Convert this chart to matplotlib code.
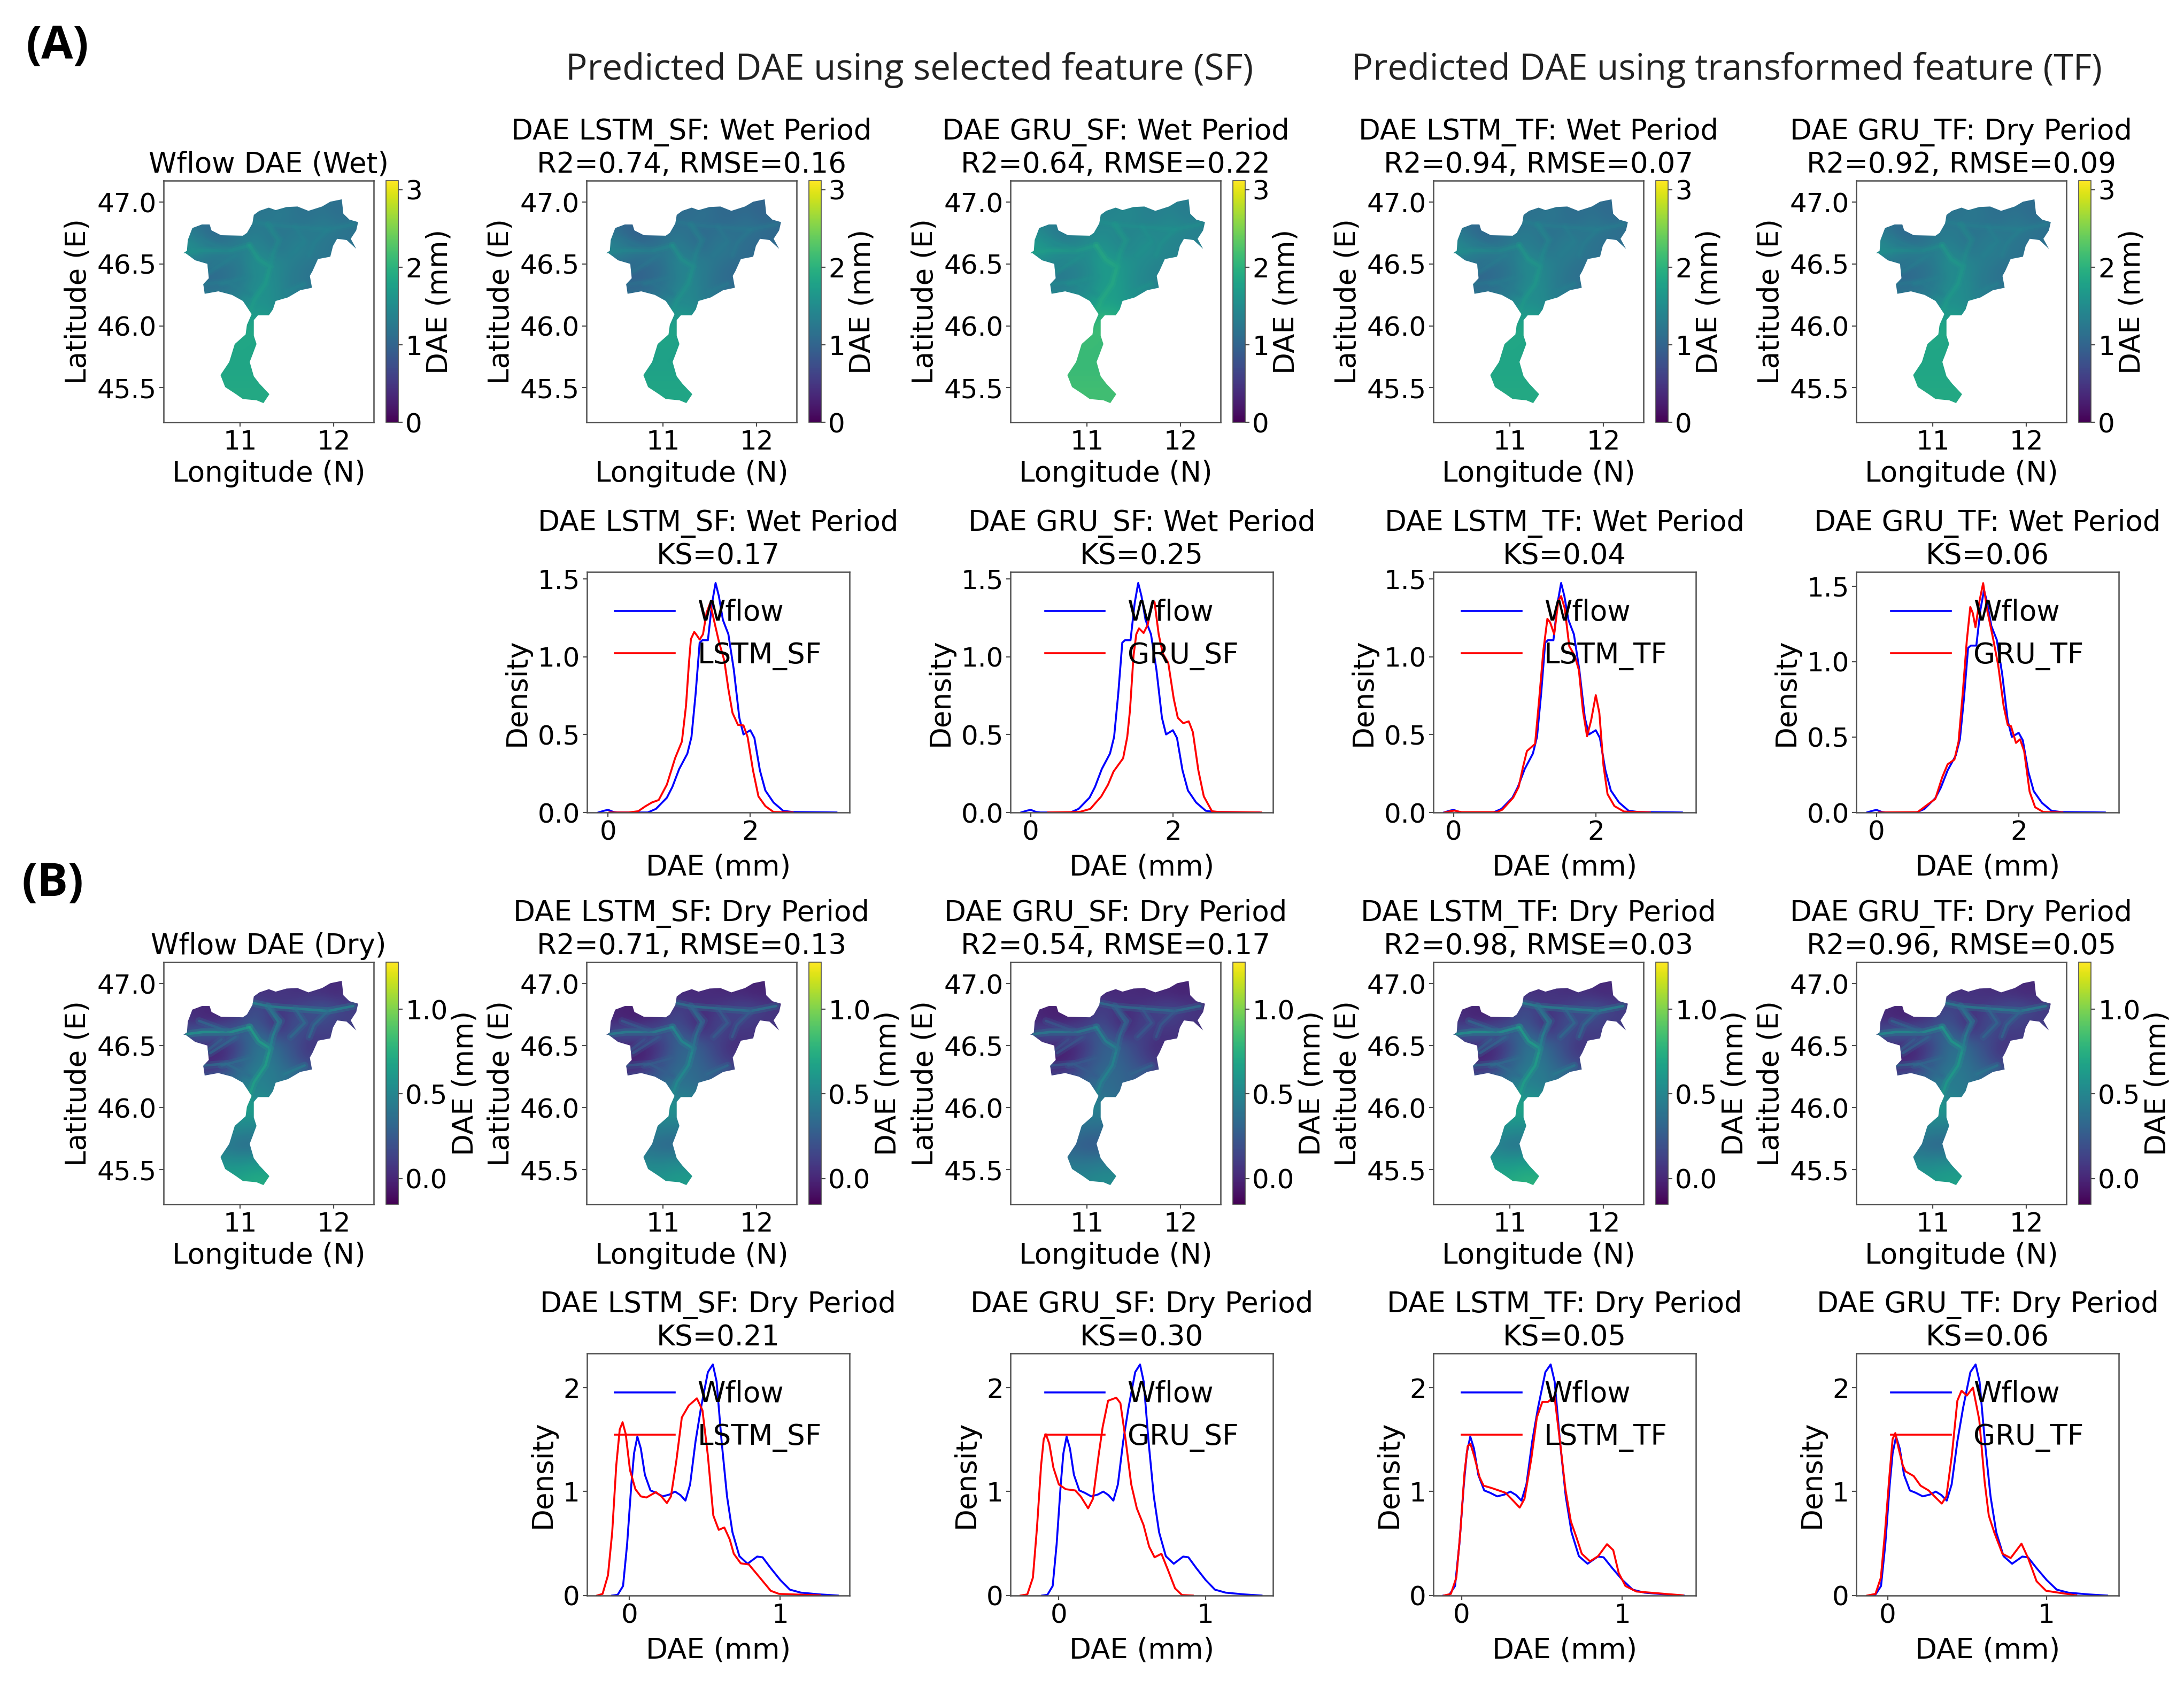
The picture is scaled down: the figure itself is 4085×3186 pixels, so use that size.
import numpy as np
import matplotlib
matplotlib.use('Agg')
import matplotlib.pyplot as plt
from matplotlib.cm import ScalarMappable
from matplotlib.colors import Normalize
from matplotlib.patches import Polygon

W, H = 4085, 3186

# basin outline
basin_lon = [10.392, 10.430, 10.439, 10.488, 10.591, 10.673, 10.693, 10.795, 11.029, 11.073, 11.132, 11.146, 11.205,
             11.307, 11.380, 11.497, 11.614, 11.731, 11.877, 11.965, 12.088, 12.105, 12.170, 12.263, 12.243, 12.184,
             12.243, 12.140, 12.038, 11.994, 11.965, 11.833, 11.775, 11.746, 11.769, 11.643, 11.512, 11.380, 11.351,
             11.307, 11.190, 11.146, 11.146, 11.175, 11.132, 11.102, 11.146, 11.205, 11.313, 11.249, 11.175, 11.029,
             10.956, 10.839, 10.789, 10.883, 10.942, 11.058, 11.073, 11.123, 11.029, 10.912, 10.766, 10.620, 10.605,
             10.664, 10.649, 10.518, 10.415]
basin_lat = [46.588, 46.607, 46.694, 46.791, 46.820, 46.820, 46.772, 46.733, 46.729, 46.752, 46.830, 46.897, 46.930,
             46.956, 46.936, 46.961, 46.965, 46.930, 46.965, 47.004, 47.023, 46.907, 46.859, 46.839, 46.772, 46.704,
             46.623, 46.694, 46.704, 46.646, 46.559, 46.540, 46.443, 46.404, 46.308, 46.288, 46.230, 46.201, 46.133,
             46.085, 46.085, 46.046, 45.921, 45.853, 45.766, 45.708, 45.592, 45.534, 45.447, 45.375, 45.398, 45.408,
             45.447, 45.505, 45.602, 45.708, 45.853, 45.930, 46.008, 46.095, 46.201, 46.250, 46.279, 46.259, 46.337,
             46.385, 46.501, 46.530, 46.588]

# DAE cells, north to south (47.0 .. 45.4), west to east (10.40 .. 12.35)
wet_grid = [
    [1.20, 1.20, 1.20, 1.20, 1.20, 1.22, 1.20, 1.24, 1.18, 1.20, 1.20, 1.12, 1.20, 1.20],
    [1.20, 1.20, 1.20, 1.20, 1.22, 1.22, 1.22, 1.30, 1.18, 1.15, 1.22, 1.10, 1.20, 1.20],
    [1.30, 1.15, 1.05, 1.20, 1.25, 1.25, 1.30, 1.22, 1.22, 1.25, 1.32, 1.25, 1.18, 1.18],
    [1.45, 1.35, 1.12, 1.12, 1.25, 1.40, 1.25, 1.20, 1.35, 1.28, 1.25, 1.18, 1.18, 1.18],
    [1.60, 1.50, 1.40, 1.38, 1.35, 1.45, 1.38, 1.25, 1.40, 1.30, 1.22, 1.18, 1.18, 1.18],
    [1.25, 1.25, 1.15, 1.20, 1.25, 1.55, 1.50, 1.42, 1.30, 1.20, 1.22, 1.20, 1.20, 1.20],
    [1.10, 1.10, 1.08, 1.15, 1.25, 1.45, 1.55, 1.38, 1.25, 1.18, 1.20, 1.20, 1.20, 1.20],
    [1.15, 1.15, 1.15, 1.20, 1.32, 1.50, 1.60, 1.38, 1.28, 1.22, 1.22, 1.20, 1.20, 1.20],
    [1.35, 1.35, 1.35, 1.35, 1.40, 1.60, 1.55, 1.42, 1.35, 1.30, 1.30, 1.30, 1.30, 1.30],
    [1.60, 1.60, 1.60, 1.60, 1.60, 1.68, 1.62, 1.55, 1.50, 1.50, 1.50, 1.50, 1.50, 1.50],
    [1.85, 1.85, 1.85, 1.85, 1.85, 1.85, 1.80, 1.80, 1.80, 1.80, 1.80, 1.80, 1.80, 1.80],
    [1.85, 1.85, 1.85, 1.85, 1.85, 1.85, 1.80, 1.80, 1.80, 1.80, 1.80, 1.80, 1.80, 1.80],
    [1.82, 1.82, 1.82, 1.82, 1.85, 1.82, 1.82, 1.82, 1.82, 1.82, 1.82, 1.82, 1.82, 1.82],
    [1.82, 1.82, 1.82, 1.82, 1.82, 1.82, 1.82, 1.82, 1.82, 1.82, 1.82, 1.82, 1.82, 1.82],
    [1.85, 1.85, 1.85, 1.85, 1.85, 1.85, 1.85, 1.85, 1.85, 1.85, 1.85, 1.85, 1.85, 1.85],
    [1.88, 1.88, 1.88, 1.88, 1.88, 1.88, 1.88, 1.88, 1.88, 1.88, 1.88, 1.88, 1.88, 1.88],
    [1.88, 1.88, 1.88, 1.88, 1.88, 1.88, 1.88, 1.88, 1.88, 1.88, 1.88, 1.88, 1.88, 1.88],
]
dry_grid = [
    [0.04, 0.04, 0.04, 0.04, 0.04, 0.08, 0.05, 0.07, 0.04, 0.05, 0.04, 0.02, 0.05, 0.05],
    [0.04, 0.04, 0.03, 0.05, 0.07, 0.08, 0.05, 0.08, 0.05, 0.07, 0.05, 0.02, 0.08, 0.08],
    [0.05, 0.02, 0.00, 0.04, 0.10, 0.18, 0.15, 0.08, 0.15, 0.18, 0.24, 0.18, 0.10, 0.10],
    [0.06, 0.02, 0.00, 0.04, 0.12, 0.24, 0.10, 0.04, 0.20, 0.18, 0.18, 0.10, 0.12, 0.12],
    [0.20, 0.32, 0.32, 0.30, 0.28, 0.35, 0.22, 0.10, 0.22, 0.12, 0.10, 0.12, 0.12, 0.12],
    [0.05, 0.05, 0.01, 0.05, 0.14, 0.38, 0.42, 0.28, 0.18, 0.05, 0.12, 0.12, 0.12, 0.12],
    [0.02, 0.02, 0.00, 0.03, 0.25, 0.38, 0.44, 0.32, 0.20, 0.10, 0.18, 0.18, 0.18, 0.18],
    [0.05, 0.10, 0.05, 0.20, 0.32, 0.44, 0.46, 0.38, 0.32, 0.22, 0.22, 0.22, 0.22, 0.22],
    [0.35, 0.35, 0.35, 0.35, 0.40, 0.50, 0.46, 0.40, 0.35, 0.30, 0.30, 0.30, 0.30, 0.30],
    [0.48, 0.48, 0.48, 0.48, 0.52, 0.52, 0.48, 0.48, 0.48, 0.48, 0.48, 0.48, 0.48, 0.48],
    [0.62, 0.62, 0.62, 0.62, 0.65, 0.68, 0.62, 0.58, 0.58, 0.58, 0.58, 0.58, 0.58, 0.58],
    [0.56, 0.56, 0.56, 0.56, 0.56, 0.56, 0.52, 0.52, 0.52, 0.52, 0.52, 0.52, 0.52, 0.52],
    [0.52, 0.52, 0.52, 0.52, 0.48, 0.46, 0.48, 0.48, 0.48, 0.48, 0.48, 0.48, 0.48, 0.48],
    [0.42, 0.42, 0.42, 0.42, 0.36, 0.36, 0.42, 0.42, 0.42, 0.42, 0.42, 0.42, 0.42, 0.42],
    [0.52, 0.52, 0.52, 0.52, 0.50, 0.52, 0.52, 0.52, 0.52, 0.52, 0.52, 0.52, 0.52, 0.52],
    [0.62, 0.62, 0.62, 0.62, 0.62, 0.66, 0.66, 0.66, 0.66, 0.66, 0.66, 0.66, 0.66, 0.66],
    [0.68, 0.68, 0.68, 0.68, 0.68, 0.72, 0.72, 0.72, 0.72, 0.72, 0.72, 0.72, 0.72, 0.72],
]

wet_tone = {'Wflow': (1.0, 0.0, 0.0), 'LSTM_SF': (1.0, -0.12, -0.05), 'GRU_SF': (1.0, 0.18, 0.28),
            'LSTM_TF': (1.0, -0.05, 0.0), 'GRU_TF': (1.0, -0.03, 0.0)}
dry_tone = {'Wflow': (1.0, 0.0, 0.0), 'LSTM_SF': (0.85, -0.03, 0.02), 'GRU_SF': (0.8, -0.03, -0.04),
            'LSTM_TF': (1.0, -0.01, 0.04), 'GRU_TF': (0.95, -0.01, -0.02)}

# valley lines of the maps (lon, lat, dry DAE, wet DAE)
valley_lines = [
    ([10.43, 10.60, 10.90, 11.10], [46.594, 46.61, 46.61, 46.65], 0.62, 1.62),
    ([11.10, 11.20, 11.32, 11.27, 11.15, 11.07, 11.05], [46.65, 46.536, 46.478, 46.34, 46.207, 46.043, 45.98], 0.68, 1.80),
    ([11.10, 11.32, 11.59, 11.94, 12.21], [46.85, 46.816, 46.80, 46.78, 46.82], 0.52, 1.42),
    ([11.32, 11.35, 11.41, 11.30], [46.478, 46.58, 46.69, 46.816], 0.52, 1.60),
    ([11.30, 11.44, 11.39], [46.816, 46.70, 46.635], 0.36, 1.38),
    ([11.59, 11.69, 11.54], [46.80, 46.684, 46.57], 0.36, 1.40),
    ([11.94, 11.79, 11.74], [46.78, 46.668, 46.57], 0.36, 1.40),
    ([10.68, 10.95], [46.44, 46.57], 0.34, 1.40),
    ([10.80, 11.10], [46.34, 46.40], 0.36, 1.40),
    ([10.61, 10.85, 11.10], [46.34, 46.355, 46.257], 0.36, 1.35),
    ([11.47, 11.69], [46.27, 46.34], 0.44, 1.45),
    ([10.56, 10.85], [46.70, 46.62], 0.34, 1.35),
    ([10.80, 10.61], [46.55, 46.44], 0.30, 1.30),
]

# density curves
wflow_wet_x = [-0.135, -0.058, 0.0, 0.077, 0.135, 0.558, 0.673, 0.827, 0.904, 1.0, 1.115, 1.173, 1.231, 1.288, 1.327,
               1.404, 1.462, 1.512, 1.558, 1.615, 1.692, 1.769, 1.846, 1.904, 2.0, 2.058, 2.135, 2.212, 2.327, 2.462,
               2.596, 3.212]
wflow_wet_y = [0.0, 0.011, 0.017, 0.003, 0.0, 0.0, 0.023, 0.095, 0.164, 0.279, 0.378, 0.485, 0.761, 1.09, 1.106, 1.106,
               1.343, 1.473, 1.389, 1.236, 1.144, 0.914, 0.608, 0.501, 0.528, 0.478, 0.271, 0.141, 0.064, 0.011, 0.003,
               0.0]
lstm_sf_wet_x = [0.019, 0.288, 0.423, 0.519, 0.615, 0.712, 0.827, 0.942, 1.038, 1.096, 1.135, 1.165, 1.212, 1.25, 1.288,
                 1.335, 1.385, 1.435, 1.481, 1.558, 1.635, 1.692, 1.75, 1.827, 1.904, 1.962, 2.038, 2.115, 2.212, 2.327,
                 2.596]
lstm_sf_wet_y = [0.0, 0.0, 0.008, 0.038, 0.064, 0.080, 0.179, 0.348, 0.455, 0.685, 0.945, 1.113, 1.159, 1.136, 1.110,
                 1.144, 1.282, 1.343, 1.251, 1.098, 0.975, 0.792, 0.639, 0.562, 0.559, 0.485, 0.271, 0.103, 0.041, 0.003,
                 0.0]
gru_sf_wet_x = [0.242, 0.685, 0.838, 0.992, 1.088, 1.165, 1.3, 1.358, 1.396, 1.446, 1.485, 1.523, 1.588, 1.646, 1.704,
                1.742, 1.8, 1.858, 1.935, 2.012, 2.069, 2.146, 2.223, 2.281, 2.358, 2.435, 2.55, 2.646, 3.242]
gru_sf_wet_y = [0.0, 0.003, 0.023, 0.103, 0.179, 0.263, 0.348, 0.485, 0.654, 1.006, 1.144, 1.182, 1.152, 1.205, 1.343,
                1.351, 1.144, 1.021, 0.960, 0.730, 0.608, 0.573, 0.585, 0.516, 0.271, 0.103, 0.008, 0.003, 0.0]
lstm_tf_wet_x = [-0.123, -0.046, 0.012, 0.108, 0.608, 0.685, 0.838, 0.915, 0.973, 1.031, 1.088, 1.146, 1.204, 1.262,
                 1.319, 1.358, 1.415, 1.473, 1.512, 1.562, 1.627, 1.704, 1.762, 1.819, 1.877, 1.935, 2.0, 2.05, 2.108,
                 2.165, 2.262, 2.396, 2.762]
lstm_tf_wet_y = [0.0, 0.008, 0.012, 0.002, 0.002, 0.018, 0.095, 0.164, 0.286, 0.394, 0.417, 0.440, 0.730, 1.037, 1.243,
                 1.220, 1.144, 1.358, 1.389, 1.312, 1.067, 1.006, 0.914, 0.654, 0.489, 0.593, 0.753, 0.639, 0.302, 0.118,
                 0.041, 0.006, 0.0]
gru_tf_wet_x = [0.038, 0.577, 0.692, 0.827, 0.923, 1.0, 1.096, 1.154, 1.212, 1.269, 1.319, 1.354, 1.392, 1.442, 1.5,
                1.558, 1.635, 1.712, 1.788, 1.846, 1.892, 1.962, 2.019, 2.077, 2.154, 2.231, 2.346, 2.615]
gru_tf_wet_y = [0.0, 0.002, 0.043, 0.090, 0.232, 0.319, 0.351, 0.469, 0.785, 1.133, 1.362, 1.322, 1.227, 1.386, 1.520,
                1.338, 1.164, 0.975, 0.706, 0.580, 0.572, 0.461, 0.485, 0.406, 0.137, 0.035, 0.003, 0.0]

wflow_dry_x = [-0.114, -0.078, -0.042, -0.015, 0.013, 0.031, 0.053, 0.076, 0.103, 0.140, 0.176, 0.221, 0.267, 0.303,
               0.339, 0.372, 0.403, 0.439, 0.475, 0.521, 0.554, 0.579, 0.612, 0.648, 0.684, 0.730, 0.784, 0.848, 0.884,
               0.938, 1.002, 1.065, 1.138, 1.265, 1.383]
wflow_dry_y = [0.0, 0.007, 0.092, 0.494, 1.069, 1.368, 1.529, 1.414, 1.161, 1.011, 0.989, 0.954, 0.972, 1.0, 0.966,
               0.913, 1.069, 1.483, 1.805, 2.149, 2.223, 2.057, 1.483, 0.954, 0.609, 0.379, 0.306, 0.375, 0.368, 0.264,
               0.149, 0.057, 0.028, 0.011, 0.0]
lstm_sf_dry_x = [-0.214, -0.178, -0.142, -0.114, -0.087, -0.064, -0.045, -0.024, 0.004, 0.040, 0.076, 0.113, 0.176,
                 0.212, 0.249, 0.276, 0.312, 0.348, 0.394, 0.448, 0.485, 0.521, 0.557, 0.593, 0.630, 0.666, 0.693, 0.739,
                 0.793, 0.866, 0.938, 0.993, 1.265]
lstm_sf_dry_y = [0.0, 0.016, 0.195, 0.609, 1.253, 1.598, 1.667, 1.552, 1.207, 1.023, 0.954, 0.943, 0.995, 0.954, 0.890,
                 0.954, 1.299, 1.713, 1.828, 1.897, 1.782, 1.345, 0.770, 0.632, 0.655, 0.540, 0.402, 0.310, 0.299, 0.172,
                 0.046, 0.016, 0.002]
gru_sf_dry_x = [-0.261, -0.215, -0.177, -0.149, -0.121, -0.103, -0.088, -0.065, -0.037, 0.0, 0.047, 0.112, 0.149, 0.2,
                0.233, 0.271, 0.299, 0.336, 0.392, 0.420, 0.457, 0.494, 0.532, 0.578, 0.616, 0.653, 0.700, 0.746, 0.793,
                0.840, 0.914]
gru_sf_dry_y = [0.0, 0.011, 0.172, 0.655, 1.253, 1.506, 1.552, 1.460, 1.230, 1.069, 1.023, 1.011, 0.954, 0.839, 0.931,
                1.345, 1.621, 1.874, 1.903, 1.851, 1.483, 1.069, 0.839, 0.678, 0.471, 0.368, 0.402, 0.241, 0.069, 0.005,
                0.0]
lstm_tf_dry_x = [-0.111, -0.068, -0.034, -0.009, 0.017, 0.037, 0.054, 0.077, 0.111, 0.136, 0.187, 0.272, 0.323, 0.361,
                 0.391, 0.434, 0.468, 0.502, 0.536, 0.578, 0.612, 0.646, 0.680, 0.714, 0.748, 0.799, 0.850, 0.905, 0.944,
                 0.978, 1.020, 1.088, 1.378]
lstm_tf_dry_y = [0.0, 0.016, 0.172, 0.609, 1.184, 1.437, 1.460, 1.345, 1.138, 1.057, 1.034, 0.989, 0.908, 0.846, 0.931,
                 1.322, 1.713, 1.862, 1.862, 1.915, 1.483, 1.023, 0.713, 0.563, 0.402, 0.329, 0.379, 0.494, 0.437, 0.218,
                 0.092, 0.039, 0.002]
gru_tf_dry_x = [-0.129, -0.077, -0.043, -0.017, 0.009, 0.031, 0.048, 0.069, 0.095, 0.112, 0.164, 0.207, 0.258, 0.310,
                0.341, 0.370, 0.404, 0.439, 0.465, 0.499, 0.537, 0.577, 0.611, 0.637, 0.671, 0.723, 0.775, 0.843, 0.886,
                0.938, 0.998, 1.188]
gru_tf_dry_y = [0.0, 0.016, 0.172, 0.609, 1.115, 1.506, 1.563, 1.414, 1.253, 1.195, 1.149, 1.057, 1.011, 0.931, 0.885,
                0.954, 1.345, 1.874, 1.970, 1.924, 2.0, 1.690, 1.092, 0.770, 0.609, 0.402, 0.361, 0.499, 0.356, 0.138,
                0.046, 0.002]

models = ['LSTM_SF', 'GRU_SF', 'LSTM_TF', 'GRU_TF']
wet_scores = ['R2=0.74, RMSE=0.16', 'R2=0.64, RMSE=0.22', 'R2=0.94, RMSE=0.07', 'R2=0.92, RMSE=0.09']
dry_scores = ['R2=0.71, RMSE=0.13', 'R2=0.54, RMSE=0.17', 'R2=0.98, RMSE=0.03', 'R2=0.96, RMSE=0.05']
wet_map_period = ['Wet', 'Wet', 'Wet', 'Dry']
wet_ks = ['0.17', '0.25', '0.04', '0.06']
dry_ks = ['0.21', '0.30', '0.05', '0.06']
wet_curves = [(lstm_sf_wet_x, lstm_sf_wet_y), (gru_sf_wet_x, gru_sf_wet_y), (lstm_tf_wet_x, lstm_tf_wet_y),
              (gru_tf_wet_x, gru_tf_wet_y)]
dry_curves = [(lstm_sf_dry_x, lstm_sf_dry_y), (gru_sf_dry_x, gru_sf_dry_y), (lstm_tf_dry_x, lstm_tf_dry_y),
              (gru_tf_dry_x, gru_tf_dry_y)]
wet_xlims = [(-0.296, 3.396), (-0.285, 3.408), (-0.285, 3.408), (-0.285, 3.408)]
dry_xlims = [(-0.281, 1.461), (-0.330, 1.461), (-0.177, 1.459), (-0.198, 1.456)]
wet_ytops = [1.544, 1.544, 1.544, 1.594]

# layout in pixels of the full picture
map_left = [306, 1097, 1890, 2681, 3472]
map_w = 393
cb_gap = 23
cb_w = 23
kde_left = [1098, 1890, 2681, 3472]
kde_w = 491
row_map_a = (338, 790)
row_kde_a = (1070, 1520)
row_map_b = (1800, 2253)
row_kde_b = (2532, 2985)

TICK = 36
LAB = 38.2
EDGE = '#4d4d4d'

plt.rcParams['font.family'] = 'DejaVu Sans'
fig = plt.figure(figsize=(W / 100, H / 100), dpi=100)


def box(left, width, row):
    top, bottom = row
    return [left / W, 1 - bottom / H, width / W, (bottom - top) / H]


def style_axes(ax):
    for s in ax.spines.values():
        s.set_linewidth(1.8)
        s.set_color(EDGE)
    ax.tick_params(labelsize=TICK, width=1.6, length=6, color=EDGE)


def draw_map(left, row, grid, tone, title, vmin, vmax, cb_ticks, cb_labels, dry):
    ax = fig.add_axes(box(left, map_w, row))
    gain, north, south = tone
    vals = np.array(grid) * gain
    vals[:9] += north
    vals[9:] += south
    norm = Normalize(vmin, vmax)
    im = ax.imshow(vals, cmap='viridis', norm=norm, extent=(10.325, 12.425, 45.35, 47.05), origin='upper',
                   aspect='auto', interpolation='bicubic')
    outline = Polygon(np.column_stack([basin_lon, basin_lat]), closed=True, transform=ax.transData,
                      facecolor='none', edgecolor='none')
    ax.add_patch(outline)
    im.set_clip_path(outline)
    for lon, lat, v_dry, v_wet in valley_lines:
        v = (v_dry if dry else v_wet) * gain + north
        col = plt.cm.viridis(norm(v))
        halo, = ax.plot(lon, lat, color=col, lw=10, alpha=0.3 if dry else 0.2, solid_capstyle='round')
        core, = ax.plot(lon, lat, color=col, lw=3.4 if dry else 4.5, alpha=0.7 if dry else 0.35, solid_capstyle='round')
        halo.set_clip_path(outline)
        core.set_clip_path(outline)
    ax.set_xlim(10.18, 12.43)
    ax.set_ylim(45.22, 47.174)
    ax.set_xticks([11, 12])
    ax.set_yticks([45.5, 46.0, 46.5, 47.0])
    ax.set_xlabel('Longitude (N)', fontsize=LAB, labelpad=6.5)
    ax.set_ylabel('Latitude (E)', fontsize=LAB, labelpad=7)
    ax.set_title(title, fontsize=LAB, pad=11)
    style_axes(ax)
    cax = fig.add_axes(box(left + map_w + cb_gap, cb_w, row))
    cb = fig.colorbar(ScalarMappable(norm=norm, cmap='viridis'), cax=cax)
    cb.set_ticks(cb_ticks)
    cb.set_ticklabels(cb_labels)
    cb.set_label('DAE (mm)', fontsize=LAB)
    cb.outline.set_linewidth(1.2)
    cb.outline.set_edgecolor(EDGE)
    cax.tick_params(labelsize=TICK, width=1.6, length=6, color=EDGE)


def draw_kde(left, row, base, model, curve, title, xlim, ytop, xticks, yticks, ylabels):
    ax = fig.add_axes(box(left, kde_w, row))
    ax.plot(base[0], base[1], color='blue', lw=2.6, label='Wflow', solid_joinstyle='round')
    ax.plot(curve[0], curve[1], color='red', lw=2.6, label=model, solid_joinstyle='round')
    ax.set_xlim(xlim)
    ax.set_ylim(0, ytop)
    ax.set_xticks(xticks)
    ax.set_yticks(yticks)
    ax.set_yticklabels(ylabels)
    ax.set_xlabel('DAE (mm)', fontsize=LAB, labelpad=11)
    ax.set_ylabel('Density', fontsize=LAB, labelpad=9)
    ax.set_title(title, fontsize=LAB, pad=11)
    style_axes(ax)
    ax.legend(loc='upper center', frameon=False, fontsize=LAB, handlelength=2.1, handletextpad=0.8,
              labelspacing=0.52, borderaxespad=0.55)


wet_t = ([0, 1, 2, 3], ['0', '1', '2', '3'])
dry_t = ([0.0, 0.5, 1.0], ['0.0', '0.5', '1.0'])

draw_map(map_left[0], row_map_a, wet_grid, wet_tone['Wflow'], 'Wflow DAE (Wet)', 0, 3.117, *wet_t, False)
draw_map(map_left[0], row_map_b, dry_grid, dry_tone['Wflow'], 'Wflow DAE (Dry)', -0.153, 1.279, *dry_t, True)

for i, m in enumerate(models):
    draw_map(map_left[i + 1], row_map_a, wet_grid, wet_tone[m],
             f'DAE {m}: {wet_map_period[i]} Period\n{wet_scores[i]}', 0, 3.117, *wet_t, False)
    draw_map(map_left[i + 1], row_map_b, dry_grid, dry_tone[m],
             f'DAE {m}: Dry Period\n{dry_scores[i]}', -0.153, 1.279, *dry_t, True)
    draw_kde(kde_left[i], row_kde_a, (wflow_wet_x, wflow_wet_y), m, wet_curves[i],
             f'DAE {m}: Wet Period\nKS={wet_ks[i]}', wet_xlims[i], wet_ytops[i], [0, 2],
             [0, 0.5, 1.0, 1.5], ['0.0', '0.5', '1.0', '1.5'])
    draw_kde(kde_left[i], row_kde_b, (wflow_dry_x, wflow_dry_y), m, dry_curves[i],
             f'DAE {m}: Dry Period\nKS={dry_ks[i]}', dry_xlims[i], 2.329, [0, 1], [0, 1, 2], ['0', '1', '2'])

fig.text(1701 / W, 1 - 131 / H, 'Predicted DAE using selected feature (SF)', family='Open Sans', fontsize=48.6,
         ha='center', va='center', color='#222222')
fig.text(3230 / W, 1 - 131 / H, 'Predicted DAE using transformed feature (TF)', family='Open Sans', fontsize=48,
         ha='center', va='center', color='#222222')
fig.text(107 / W, 1 - 88 / H, '(A)', family='Open Sans', fontweight='bold', fontsize=62, ha='center', va='center')
fig.text(99 / W, 1 - 1654 / H, '(B)', family='Open Sans', fontweight='bold', fontsize=62, ha='center', va='center')

fig.savefig('out.png', dpi=100, facecolor='white')
